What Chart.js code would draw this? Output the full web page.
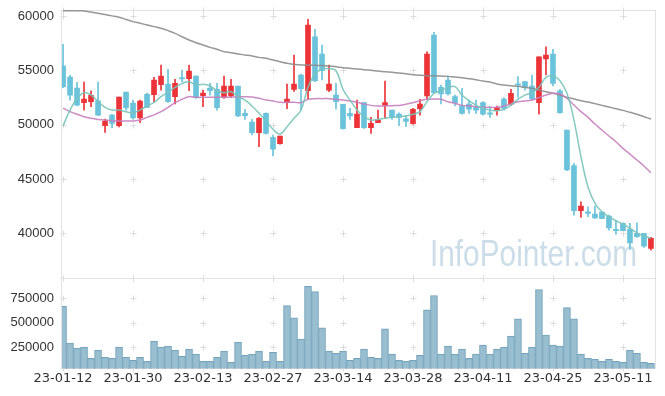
<!DOCTYPE html>
<html>
<head>
<meta charset="utf-8">
<title>candle chart</title>
<script src="https://cdn.jsdelivr.net/npm/chart.js@4/dist/chart.umd.min.js"></script>
<style>
    html, body { margin: 0; padding: 0; background: #fff; }
    #wrap { position: relative; width: 665px; height: 396px; overflow: hidden; }
    canvas { position: absolute; left: 0; }
    #priceChart { top: -10px; }
    #volChart { top: 258px; }
</style>
</head>
<body>
<div id="wrap">
    <canvas id="priceChart" width="665" height="308"></canvas>
    <canvas id="volChart" width="665" height="138"></canvas>
</div>
<script>
// trading days (yy-mm-dd)
const dates = [
    '23-01-12','23-01-13','23-01-16','23-01-17','23-01-18','23-01-19','23-01-20','23-01-25','23-01-26','23-01-27',
    '23-01-30','23-01-31','23-02-01','23-02-02','23-02-03','23-02-06','23-02-07','23-02-08','23-02-09','23-02-10',
    '23-02-13','23-02-14','23-02-15','23-02-16','23-02-17','23-02-20','23-02-21','23-02-22','23-02-23','23-02-24',
    '23-02-27','23-02-28','23-03-02','23-03-03','23-03-06','23-03-07','23-03-08','23-03-09','23-03-10','23-03-13',
    '23-03-14','23-03-15','23-03-16','23-03-17','23-03-20','23-03-21','23-03-22','23-03-23','23-03-24','23-03-27',
    '23-03-28','23-03-29','23-03-30','23-03-31','23-04-03','23-04-04','23-04-05','23-04-06','23-04-07','23-04-10',
    '23-04-11','23-04-12','23-04-13','23-04-14','23-04-17','23-04-18','23-04-19','23-04-20','23-04-21','23-04-24',
    '23-04-25','23-04-26','23-04-27','23-04-28','23-05-02','23-05-03','23-05-04','23-05-08','23-05-09','23-05-10',
    '23-05-11','23-05-12','23-05-15','23-05-16','23-05-17'
];

const opens = [
    55400,54380,53370,52020,52110,52200,49900,50880,49900,53000,
    51990,50610,52780,52750,53670,53740,52570,54260,54230,54470,
    52670,53370,53250,52570,52630,53550,51040,50240,49250,51040,
    48830,48240,52020,53250,54570,53120,58090,56500,53180,52720,
    51870,51040,49710,52020,49710,50170,51800,51340,50970,50540,
    50080,51470,52630,58250,53430,54110,52570,51710,51900,51590,
    52020,51090,51280,52360,51870,53710,53950,53550,52020,56040,
    56500,53120,49500,46230,42070,41950,41770,41950,41580,40320,
    40910,40350,39990,39990,38610
];
const highs = [
    57400,54540,53890,53920,53120,53920,50510,50950,52540,53000,
    52260,52260,52910,54350,55490,55090,54170,55030,55490,54470,
    53180,53800,53800,54470,54170,53550,51410,50480,50670,51090,
    49040,48950,53740,56410,54660,59690,58770,57330,55490,53800,
    51870,51500,52260,52020,50670,51340,54010,51340,51090,50850,
    51500,52330,56710,58500,53640,54470,52720,53340,52260,52260,
    52110,51650,51710,52480,53250,54410,53950,54570,56250,57170,
    56930,53250,49500,46430,42890,42440,42500,41950,41670,41120,
    40970,40910,40970,39990,39620
];
const lows = [
    53400,52260,51740,51340,51650,50820,49290,49710,49780,51340,
    50510,50180,51550,52080,53180,52050,51900,53950,53120,52420,
    51650,52720,51340,52420,52510,50730,50480,49040,47960,49130,
    47110,48210,51460,53050,51340,52330,53950,54110,53030,51410,
    49570,50480,49710,49660,49200,50170,50580,50480,49900,49800,
    50050,50880,52330,52940,51900,52720,51710,50950,51040,51040,
    50880,50670,50880,51340,51800,52510,53180,52260,50950,54570,
    53550,51040,45750,41670,41460,41520,41370,41340,40290,39920,
    40230,38510,39620,38700,38450
];
const closes = [
    53500,52720,51800,52360,52700,50880,50330,50110,52540,51550,
    50610,52170,51590,54110,54470,52110,53800,54200,54930,52480,
    52910,53120,51550,53550,53550,50790,50820,49250,50570,49200,
    47750,48950,52360,53740,53310,59170,54040,54960,53740,52110,
    49630,50790,50970,49710,50110,50420,52020,50670,50670,50300,
    51410,51900,56500,52940,52820,52820,52020,51040,51410,51340,
    50950,50950,51550,51500,52880,53620,53430,52360,56250,56410,
    53800,51090,45820,42070,42500,41830,41400,41340,40500,40230,
    40230,39120,39680,38820,39530
];
const volumes = [
    666000,291000,240000,250000,136000,219000,147000,136000,250000,147000,
    116000,147000,105000,312000,250000,260000,219000,157000,229000,178000,
    105000,105000,147000,209000,95000,302000,167000,178000,209000,105000,
    198000,105000,674000,550000,333000,870000,818000,446000,209000,188000,
    209000,116000,136000,229000,147000,136000,436000,178000,116000,105000,
    116000,167000,632000,777000,178000,260000,178000,229000,136000,178000,
    271000,178000,229000,250000,364000,539000,188000,250000,839000,374000,
    271000,260000,653000,539000,178000,136000,126000,105000,126000,105000,
    95000,219000,188000,95000,85000
];

// moving averages
const ma5 = [
    49870,51340,52420,52940,52720,52110,51590,51340,51340,51190,
    51090,51340,51710,52050,52570,52980,53430,53800,53950,53640,
    53710,53550,53120,52940,53030,52570,52260,51710,51040,50330,
    49570,49130,49800,50580,51340,53430,54660,55090,55150,54960,
    53250,52260,51340,50730,50420,50480,50580,50670,50730,50790,
    50950,51190,52110,52880,53120,53400,53490,52720,52200,51800,
    51500,51340,51280,51410,51800,52330,52720,52940,53430,54350,
    54470,54040,52880,50420,47040,44280,42740,41980,41520,41150,
    40840,40450,40040,39740,39530
];
const ma20 = [
    51520,51200,50950,50730,50580,50480,50420,50360,50330,50330,
    50330,50420,50670,50900,51190,51590,52020,52330,52570,52510,
    52510,52510,52510,52510,52540,52570,52570,52540,52420,52260,
    52170,52050,52050,52050,52020,52330,52390,52390,52390,52330,
    52260,52170,52050,51900,51770,51710,51710,51740,51770,51870,
    52020,52200,52330,52360,52330,52110,51960,51770,51710,51650,
    51590,51590,51590,51710,51900,52110,52170,52260,52480,52720,
    52880,52820,52420,51800,51190,50670,50050,49500,48950,48420,
    47810,47290,46740,46190,45570
];
const ma60 = [
    60490,60480,60470,60460,60360,60250,60130,60010,59880,59680,
    59480,59330,59170,59020,58870,58650,58400,58090,57790,57540,
    57330,57110,56930,56710,56620,56500,56410,56320,56190,56100,
    55950,55790,55640,55550,55490,55490,55460,55430,55400,55330,
    55240,55180,55120,55060,55000,54930,54870,54810,54750,54690,
    54600,54540,54500,54500,54470,54440,54380,54320,54230,54130,
    54010,53920,53740,53640,53580,53520,53430,53340,53180,53030,
    52880,52720,52510,52360,52200,52080,51930,51770,51620,51460,
    51310,51130,50950,50730,50510
];

const xTickIdx = [0, 10, 20, 30, 40, 50, 60, 70, 80];
const priceTicks = [40000, 45000, 50000, 55000, 60000];
const volTicks = [250000, 500000, 750000];

const UP = '#ec3438';
const DOWN = '#6bc3db';

Chart.defaults.font.family = '"Liberation Sans", Arial, sans-serif';
Chart.defaults.font.size = 13;
Chart.defaults.color = '#333';

function candleColor(ctx) {
    const i = ctx.dataIndex;
    return closes[i] >= opens[i] ? UP : DOWN;
}

// small crosses instead of grid lines, light frame, watermark
const panelDeco = {
    id: 'panelDeco',
    beforeDatasetsDraw(chart, args, opts) {
        const c = chart.ctx;
        const a = chart.chartArea;
        const xs = chart.scales.x;
        const ys = chart.scales.y;
        c.save();
        if (opts.watermark) {
            // squeeze text to the width seen in the picture
            c.font = '36px "Liberation Sans Narrow", "Liberation Sans", Arial, sans-serif';
            const w = c.measureText(opts.watermark).width;
            c.fillStyle = '#cbdde8';
            c.textBaseline = 'alphabetic';
            c.translate(a.right - 225.5, a.bottom - 12.3);
            c.scale(207 / w, 1);
            c.fillText(opts.watermark, 0, 0);
            c.setTransform(1, 0, 0, 1, 0, 0);
        }
        c.strokeStyle = '#dcdcdc';
        c.lineWidth = 1;
        const yPix = opts.yTicks.map(v => ys.getPixelForValue(v)).concat([a.top, a.bottom]);
        c.beginPath();
        xTickIdx.forEach(v => {
            const px = Math.round(xs.getPixelForValue(v)) + 0.5;
            yPix.forEach(py => {
                py = Math.round(py) + 0.5;
                c.moveTo(px - 3, py); c.lineTo(px + 3, py);
                c.moveTo(px, py - 3); c.lineTo(px, py + 3);
            });
        });
        c.stroke();
        c.strokeStyle = '#e2e2e2';
        c.strokeRect(Math.round(a.left) - 0.5, Math.round(a.top) + 0.5,
            Math.round(a.right - a.left), Math.round(a.bottom - a.top));
        c.restore();
    }
};

const xScale = (show) => ({
    type: 'linear',
    min: -0.15,
    max: 84.65,
    offset: false,
    display: show,
    grid: { display: false, drawTicks: false, offset: false },
    border: { display: false },
    afterBuildTicks: s => { s.ticks = xTickIdx.map(v => ({ value: v })); },
    ticks: {
        padding: 2,
        maxRotation: 0,
        autoSkip: false,
        font: { family: '"DejaVu Sans", sans-serif', size: 13 },
        color: '#333',
        callback: v => dates[v]
    }
});

const yScale = (min, max, tickVals) => ({
    type: 'linear',
    min: min,
    max: max,
    beginAtZero: false,
    grid: { display: false, drawTicks: false },
    border: { display: false },
    afterBuildTicks: s => { s.ticks = tickVals.map(v => ({ value: v })); },
    afterFit: s => { s.width = 62; },
    ticks: { padding: 8, callback: v => String(v) }
});

const pts = arr => arr.map((v, i) => ({ x: i, y: v }));

new Chart(document.getElementById('priceChart'), {
    type: 'bar',
    data: {
        datasets: [
            { type: 'line', label: 'MA5', data: pts(ma5), borderColor: 'rgba(120,196,186,0.9)',
              borderWidth: 1.5, pointRadius: 0, tension: 0.4, order: 0 },
            { type: 'line', label: 'MA20', data: pts(ma20), borderColor: 'rgba(198,128,190,0.9)',
              borderWidth: 1.5, pointRadius: 0, tension: 0.4, order: 0 },
            { type: 'line', label: 'MA60', data: pts(ma60), borderColor: 'rgba(140,140,140,0.9)',
              borderWidth: 1.5, pointRadius: 0, tension: 0.4, order: 0 },
            { label: 'body', data: opens.map((o, i) => ({ x: i, y: [o, closes[i]] })),
              backgroundColor: candleColor, barThickness: 5, minBarLength: 1.5, grouped: false, order: 1 },
            { label: 'wick', data: lows.map((l, i) => ({ x: i, y: [l, highs[i]] })),
              backgroundColor: candleColor, barThickness: 1, grouped: false, order: 2 }
        ]
    },
    options: {
        responsive: false,
        animation: false,
        layout: { padding: { top: 20, right: 9.5, bottom: 20, left: 0 } },
        scales: {
            x: xScale(false),
            y: yScale(35880, 60550, priceTicks)
        },
        plugins: {
            legend: { display: false },
            tooltip: { enabled: false },
            panelDeco: { yTicks: priceTicks, watermark: 'InfoPointer.com' }
        }
    },
    plugins: [panelDeco]
});

new Chart(document.getElementById('volChart'), {
    type: 'bar',
    data: {
        datasets: [{
            label: 'volume',
            data: pts(volumes),
            backgroundColor: 'rgba(146,187,205,0.95)',
            borderColor: '#74a3bb',
            borderWidth: 1,
            barThickness: 7,
            grouped: false
        }]
    },
    options: {
        responsive: false,
        animation: false,
        layout: { padding: { top: 20, right: 9.5, bottom: 8, left: 0 } },
        scales: {
            x: xScale(true),
            y: yScale(33000, 956000, volTicks)
        },
        plugins: {
            legend: { display: false },
            tooltip: { enabled: false },
            panelDeco: { yTicks: volTicks }
        }
    },
    plugins: [panelDeco]
});
</script>
</body>
</html>
